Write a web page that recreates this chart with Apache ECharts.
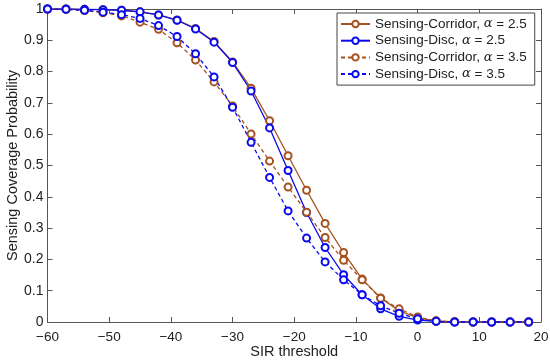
<!DOCTYPE html>
<html><head><meta charset="utf-8">
<script src="https://cdn.jsdelivr.net/npm/echarts@6/dist/echarts.min.js"></script>
<style>html,body{margin:0;padding:0;background:#fff}#c{width:550px;height:361px}</style>
</head><body><div id="c"></div>
<script>
const xValues = [-60,-57,-54,-51,-48,-45,-42,-39,-36,-33,-30,-27,-24,-21,-18,-15,-12,-9,-6,-3,0,3,6,9,12,15,18];
const corridor25 = [1.0,1.0,0.999,0.998,0.996,0.991,0.981,0.965,0.938,0.896,0.831,0.747,0.643,0.531,0.421,0.315,0.222,0.137,0.077,0.036,0.013,0.003,0.0005,0,0,0,0];
const disc25 = [1.0,1.0,0.999,0.998,0.996,0.991,0.981,0.964,0.936,0.894,0.829,0.738,0.620,0.484,0.350,0.238,0.151,0.087,0.042,0.018,0.006,0.002,0,0,0,0,0];
const corridor35 = [1.0,0.999,0.995,0.988,0.978,0.958,0.935,0.892,0.837,0.767,0.690,0.601,0.514,0.431,0.351,0.270,0.197,0.135,0.076,0.042,0.016,0.004,0.001,0,0,0,0];
const disc35 = [1.0,0.999,0.996,0.990,0.982,0.970,0.947,0.912,0.857,0.783,0.686,0.574,0.462,0.355,0.268,0.192,0.135,0.087,0.052,0.028,0.010,0.002,0,0,0,0,0];
const seriesNames = ['Sensing-Corridor, {i|α} = 2.5','Sensing-Disc, {i|α} = 2.5','Sensing-Corridor, {i|α} = 3.5','Sensing-Disc, {i|α} = 3.5'];

const BROWN = '#a5521f', BLUE = '#0a0aee';
const font = 'Liberation Sans, Arial, Helvetica, sans-serif';
function mk(name, data, color, dashed){
  return {
    name, type:'line', data: xValues.map((x,i)=>[x,data[i]]),
    symbol:'emptyCircle', symbolSize:7, showAllSymbol:true,
    lineStyle:{color, width:1.3, type: dashed?[4,3]:'solid'},
    itemStyle:{color, borderColor:color, borderWidth:1.2},
    animation:false
  };
}
const chart = echarts.init(document.getElementById('c'));
const axisLine = {show:true, onZero:false, lineStyle:{color:'#555', width:1}};
const tick = {show:true, inside:true, length:5, lineStyle:{color:'#555'}};
chart.setOption({
  animation:false,
  grid:{left:47.5, right:9, top:9, bottom:39, containLabel:false, outerBoundsMode:'none'},
  legend:{
    data: seriesNames, orient:'vertical', left:337, top:13,
    backgroundColor:'#fff', borderColor:'#444', borderWidth:1,
    padding:[4,8,4,3], itemGap:2.7, itemWidth:29, itemHeight:8,
    textStyle:{fontFamily:font, fontSize:13.5, lineHeight:14, color:'#222',
      rich:{i:{fontFamily:'DejaVu Serif, serif', fontStyle:'italic', fontSize:13, lineHeight:14, color:'#222'}}}
  },
  xAxis:[{
    type:'value', min:-60, max:20, interval:10,
    name:'SIR threshold', nameLocation:'middle', nameGap:22, nameMoveOverlap:false,
    nameTextStyle:{fontFamily:font, fontSize:14.5, color:'#222'},
    axisLine, axisTick:tick,
    axisLabel:{fontFamily:font, fontSize:13.5, color:'#222', margin:8, formatter:v=>String(v).replace('-','\u2212')},
    splitLine:{show:false}
  },{
    type:'value', position:'top', min:-60, max:20, interval:10,
    axisLine, axisTick:tick,
    axisLabel:{show:false}, splitLine:{show:false}
  }],
  yAxis:[{
    type:'value', min:0, max:1, interval:0.1,
    name:'Sensing Coverage Probability', nameLocation:'middle', nameGap:27.5, nameMoveOverlap:false,
    nameTextStyle:{fontFamily:font, fontSize:14.5, color:'#222'},
    axisLine, axisTick:tick,
    axisLabel:{fontFamily:font, fontSize:14, color:'#222', margin:4, formatter:v=>String(Math.round(v*10)/10)},
    splitLine:{show:false}
  },{
    type:'value', position:'right', min:0, max:1, interval:0.1,
    axisLine, axisTick:tick,
    axisLabel:{show:false}, splitLine:{show:false}
  }],
  series:[
    mk(seriesNames[0], corridor25, BROWN, false),
    mk(seriesNames[1], disc25, BLUE, false),
    mk(seriesNames[2], corridor35, BROWN, true),
    mk(seriesNames[3], disc35, BLUE, true)
  ]
});
</script></body></html>
